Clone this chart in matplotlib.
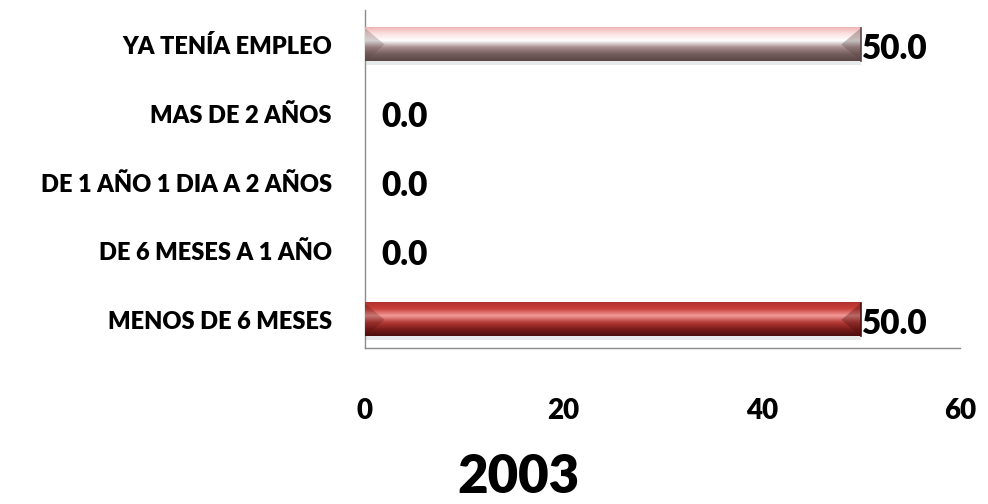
import matplotlib.pyplot as plt
import numpy as np
from matplotlib.colors import LinearSegmentedColormap
from matplotlib.patches import Polygon

# Data
categories = ['MENOS DE 6 MESES', 'DE 6 MESES A 1 AÑO', 'DE 1 AÑO 1 DIA A 2 AÑOS',
              'MAS DE 2 AÑOS', 'YA TENÍA EMPLEO']
values = [50.0, 0.0, 0.0, 0.0, 50.0]
xticks = [0, 20, 40, 60]
title = '2003'

# Vertical gradients (top -> bottom) for each bar
gradients = {
    0: ['#b3302c', '#c9423c', '#f39a98', '#b43a36', '#7a1c1a', '#4a0f0e'],
    4: ['#f0b4b4', '#fbe2e2', '#ffffff', '#a88c8c', '#735c5c', '#5a4646'],
}

plt.rcParams['font.family'] = ['Lato', 'DejaVu Sans']

fig = plt.figure(figsize=(9.88, 5.04), dpi=100)
ax = fig.add_axes([0.3694, 0.3095, 0.6023, 0.6705])

y = np.arange(len(categories))
bar_h = 0.48
bars = ax.barh(y, values, height=bar_h, color='none', edgecolor='none', zorder=2)

ax.set_xlim(0, 60)
ax.set_ylim(-0.41, 4.5)

for i, (b, v) in enumerate(zip(bars, values)):
    if v > 0:
        x0, yb, w, h = b.get_x(), b.get_y(), b.get_width(), b.get_height()
        cmap = LinearSegmentedColormap.from_list('g%d' % i, gradients[i])
        grad = np.linspace(0, 1, 256).reshape(-1, 1)
        # shadow
        ax.fill_between([x0, x0 + w], yb - 0.06, yb, color='#d8dcdc', alpha=0.6,
                        zorder=1, linewidth=0)
        ax.imshow(grad, cmap=cmap, aspect='auto', origin='upper',
                  extent=(x0, x0 + w, yb, yb + h), zorder=3)
        # bevelled ends
        bev = 2.2
        dark = gradients[i][-1]
        ax.add_patch(Polygon([(x0, yb), (x0, yb + h), (x0 + bev * 0.9, yb + h / 2)],
                             closed=True, color=dark, alpha=0.25, zorder=4, lw=0))
        ax.add_patch(Polygon([(x0 + w, yb), (x0 + w, yb + h), (x0 + w - bev * 0.9, yb + h / 2)],
                             closed=True, color=dark, alpha=0.35, zorder=4, lw=0))
        ax.plot([x0 + w, x0 + w], [yb, yb + h], color=dark, lw=1.2, zorder=5)
    off = 1 if v > 0 else 12
    ax.annotate('%.1f' % v, xy=(v, y[i]), xytext=(off, -3), textcoords='offset points',
                ha='left', va='center', fontsize=24, fontweight='heavy', color='black',
                zorder=6)

ax.set_yticks(y)
ax.set_yticklabels(categories, fontsize=17, fontweight='heavy')
ax.set_xticks(xticks)
ax.set_xticklabels([str(t) for t in xticks], fontsize=20, fontweight='heavy')
ax.tick_params(axis='y', length=0, pad=24)
ax.tick_params(axis='x', length=0, pad=36)

for s in ['top', 'right']:
    ax.spines[s].set_visible(False)
for s in ['left', 'bottom']:
    ax.spines[s].set_color('#8c8c8c')
    ax.spines[s].set_linewidth(1.0)

fig.text(0.525, 0.052, title, ha='center', va='center', fontsize=38, fontweight='heavy')

plt.savefig('out.png', dpi=100)
